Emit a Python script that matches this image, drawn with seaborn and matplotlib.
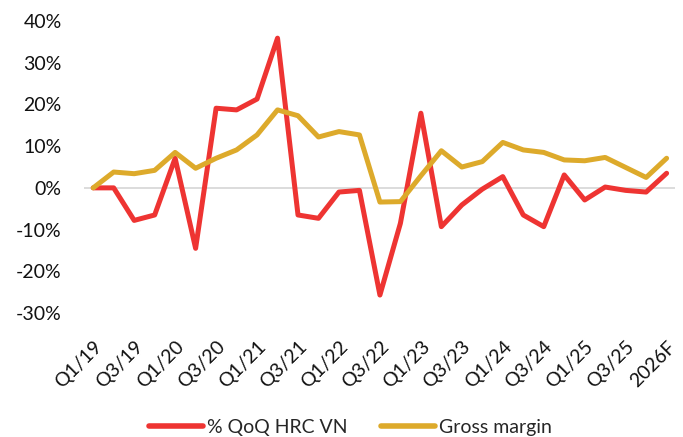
import matplotlib
matplotlib.use('Agg')
import matplotlib.pyplot as plt
import seaborn as sns
import pandas as pd
from matplotlib.ticker import PercentFormatter

# Quarters Q1/19 .. Q4/25 plus 2026F
quarters = [f'Q{q}/{y}' for y in range(19, 26) for q in range(1, 5)] + ['2026F']

qoq_hrc = [0.0, 0.0, -7.8, -6.5, 7.1, -14.5, 19.1, 18.7, 21.3, 35.9,
           -6.5, -7.3, -1.0, -0.6, -25.7, -8.5, 17.9, -9.3, -4.1, -0.3,
           2.7, -6.5, -9.3, 3.1, -2.9, 0.2, -0.6, -1.0, 3.5]
gross_margin = [0.0, 3.8, 3.4, 4.2, 8.5, 4.7, 7.1, 9.1, 12.7, 18.7,
                17.3, 12.2, 13.5, 12.7, -3.4, -3.3, 2.9, 8.9, 5.0, 6.3,
                10.9, 9.1, 8.5, 6.7, 6.5, 7.3, 4.9, 2.5, 7.1]

df = pd.DataFrame({'idx': range(len(quarters)), 'quarter': quarters,
                   '% QoQ HRC VN': qoq_hrc, 'Gross margin': gross_margin})
long = df.melt(id_vars=['idx', 'quarter'], var_name='series', value_name='value')

sns.set_style('white')
plt.rcParams['font.family'] = ['Lato', 'DejaVu Sans']
plt.rcParams['axes.unicode_minus'] = False

fig = plt.figure(figsize=(6.83, 4.37), dpi=100)
ax = fig.add_axes([0.123, 0.2838, 0.865, 0.668])

palette = {'% QoQ HRC VN': '#EE3432', 'Gross margin': '#DDAA2B'}
ax.axhline(0, color='#D9D9D9', lw=1.3, zorder=0)
sns.lineplot(data=long, x='idx', y='value', hue='series', palette=palette,
             linewidth=3.6, ax=ax, legend=True)

ax.set_xlim(-0.45, 28.4)
ax.set_ylim(-30, 40)
ax.set_yticks(range(-30, 41, 10))
ax.yaxis.set_major_formatter(PercentFormatter(decimals=0))
ticks = list(range(0, 27, 2)) + [28]
ax.set_xticks(ticks)
ax.set_xticklabels([quarters[i] for i in ticks], rotation=45, ha='right',
                   rotation_mode='anchor', fontsize=14)
ax.tick_params(axis='y', labelsize=14, pad=16, length=0, colors='#111111')
ax.tick_params(axis='x', pad=18, length=0, colors='#111111')
ax.set_xlabel('')
ax.set_ylabel('')
sns.despine(ax=ax, left=True, bottom=True)

handles, labels = ax.get_legend_handles_labels()
ax.get_legend().remove()
leg = fig.legend(handles, labels, loc='center left',
                 bbox_to_anchor=(149 / 683, 1 - 427 / 437), ncol=2,
                 frameon=False, fontsize=14, handlelength=2.8,
                 columnspacing=1.7, handletextpad=0.2, borderpad=0,
                 borderaxespad=0)
for line in leg.get_lines():
    line.set_linewidth(4)

fig.savefig('out.png', dpi=100)
